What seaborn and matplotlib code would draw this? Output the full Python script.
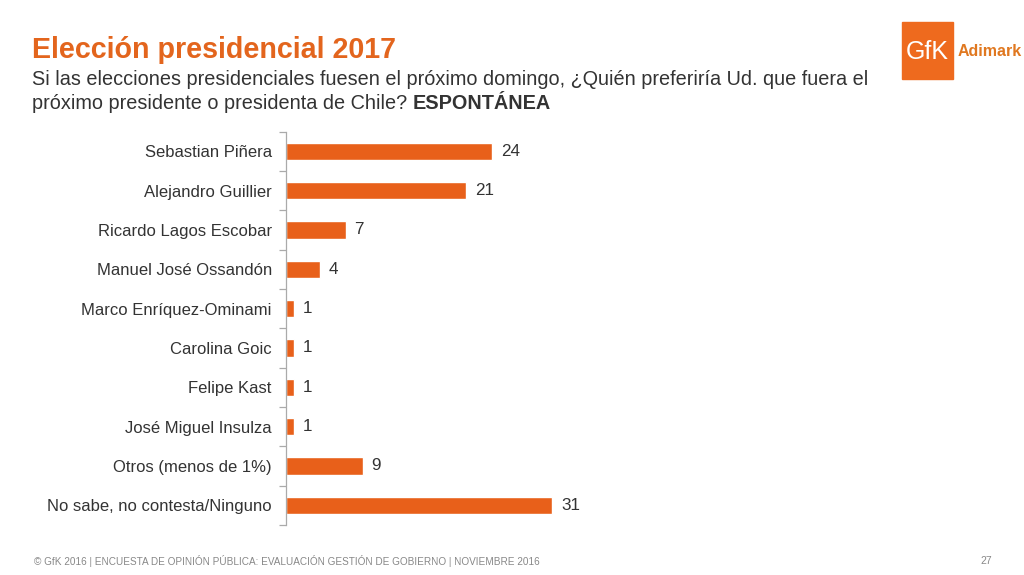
import matplotlib.pyplot as plt
import matplotlib.patches as mpatches
import seaborn as sns
import pandas as pd

candidatos = ["Sebastian Piñera", "Alejandro Guillier", "Ricardo Lagos Escobar",
              "Manuel José Ossandón", "Marco Enríquez-Ominami", "Carolina Goic",
              "Felipe Kast", "José Miguel Insulza", "Otros (menos de 1%)",
              "No sabe, no contesta/Ninguno"]
porcentajes = [24, 21, 7, 4, 1, 1, 1, 1, 9, 31]

naranja = "#E8601A"
gris_texto = "#333333"

sns.set_theme(style="white")
plt.rcParams["font.family"] = ["Liberation Sans", "DejaVu Sans"]

df = pd.DataFrame({"candidato": candidatos, "pct": porcentajes})

fig = plt.figure(figsize=(10.24, 5.75), dpi=100)
ax = fig.add_axes([0.279, 0.087, 0.5, 0.684])
sns.barplot(data=df, x="pct", y="candidato", color=naranja, width=0.44,
            saturation=1, ax=ax)

ax.set_xlim(0, 59.5)
ax.set_ylim(len(candidatos) - 0.5, -0.5)
ax.set_xlabel("")
ax.set_ylabel("")
ax.set_xticks([])
for s in ["top", "right", "bottom"]:
    ax.spines[s].set_visible(False)
ax.spines["left"].set_color("#AAAAAA")
ax.spines["left"].set_linewidth(0.9)
ax.tick_params(axis="y", which="major", length=0, pad=10, labelsize=12.0,
               labelcolor=gris_texto)
ax.set_yticks([i + 0.5 for i in range(-1, len(candidatos))], minor=True)
ax.tick_params(axis="y", which="minor", left=True, length=5, color="#AAAAAA",
               width=0.9)

for i, v in enumerate(porcentajes):
    ax.text(v + 1.0, i, str(v), va="center", ha="left", fontsize=12.3,
            color=gris_texto)

# titulo y subtitulo
fig.text(0.031, 0.913, "Elección presidencial 2017", fontsize=20.6,
         fontweight="bold", color="#E3651D", ha="left", va="center")
fig.text(0.031, 0.862,
         "Si las elecciones presidenciales fuesen el próximo domingo, ¿Quién preferiría Ud. que fuera el",
         fontsize=14.3, color=gris_texto, ha="left", va="center")
t1 = fig.text(0.031, 0.82, "próximo presidente o presidenta de Chile? ",
              fontsize=14.3, color=gris_texto, ha="left", va="center")
ax.annotate("ESPONTÁNEA", xy=(1, 0.5), xycoords=t1, ha="left", va="center",
            fontsize=14.3, fontweight="bold", color=gris_texto,
            annotation_clip=False)

# logo
fig.patches.append(mpatches.Rectangle((902 / 1024, 1 - 79 / 575), 51 / 1024, 57 / 575,
                                      transform=fig.transFigure, color="#EE6A1E"))
fig.text(927 / 1024, 1 - 52 / 575, "GfK", fontsize=18, color="white",
         ha="center", va="center")
fig.text(958 / 1024, 1 - 52 / 575, "Adimark", fontsize=11.5, fontweight="bold",
         color="#E07820", ha="left", va="center")

# pie de pagina
fig.text(0.033, 0.024,
         "© GfK 2016 | ENCUESTA DE OPINIÓN PÚBLICA: EVALUACIÓN GESTIÓN DE GOBIERNO | NOVIEMBRE 2016",
         fontsize=7.2, color="#888888", ha="left", va="center")
fig.text(0.963, 0.024, "27", fontsize=7.5, color="#888888", ha="center", va="center")

fig.savefig("out.png", dpi=100)
